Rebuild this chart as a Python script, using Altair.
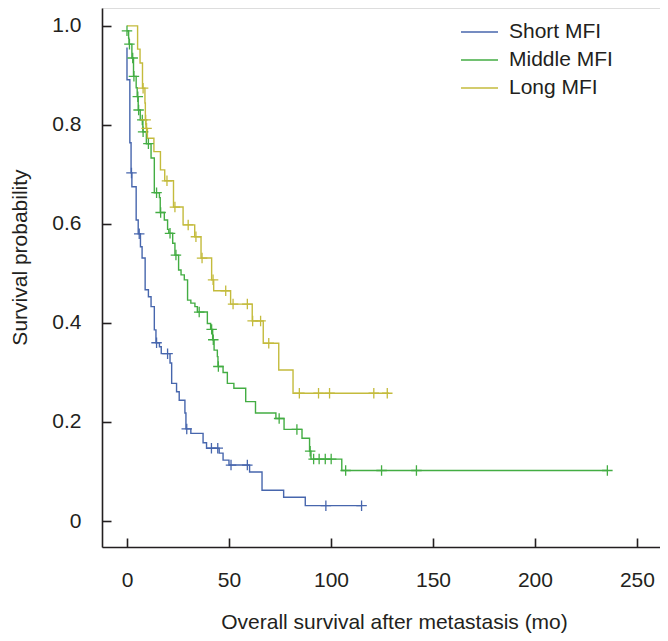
import altair as alt
import pandas as pd

groups = ["Short MFI", "Middle MFI", "Long MFI"]
colors = ["#4766ad", "#43ad43", "#c4bb3c"]

# Kaplan-Meier step points (time in months, survival probability)
short_t = [0, 0, 1.4, 2.0, 2.4, 4.5, 5.5, 6.6, 7.4, 8.9, 10.5, 11.8, 13.4, 14.2, 15.9, 16.8,
           21.1, 21.9, 24.3, 25.6, 28.4, 28.9, 31.3, 37.3, 39.0, 45.2, 47.1, 50.0, 60.1, 66.2,
           76.8, 87.4, 115.0]
short_s = [0.956, 0.891, 0.764, 0.703, 0.675, 0.608, 0.580, 0.554, 0.531, 0.467, 0.453, 0.433,
           0.386, 0.360, 0.352, 0.338, 0.319, 0.278, 0.261, 0.244, 0.218, 0.186, 0.177, 0.158,
           0.147, 0.137, 0.123, 0.113, 0.099, 0.062, 0.048, 0.031, 0.031]
short_ct = [2.2, 6.0, 14.5, 19.9, 29.3, 41.4, 44.5, 51.0, 59.0, 97.5, 115.0]
short_cs = [0.703, 0.580, 0.360, 0.338, 0.186, 0.147, 0.147, 0.113, 0.113, 0.031, 0.031]

mid_t = [0, 0.8, 1.0, 2.4, 3.2, 4.5, 5.0, 5.5, 6.5, 7.8, 9.5, 11.8, 13.4, 15.9, 16.3, 18.3,
         19.9, 20.5, 22.4, 23.5, 25.3, 26.5, 28.1, 29.7, 31.3, 33.3, 34.5, 39.4, 41.0, 42.0,
         42.7, 44.3, 44.6, 47.1, 49.2, 52.4, 58.2, 63.0, 73.0, 77.0, 85.8, 89.5, 90.2, 105.3,
         235.5]
mid_s = [0.99, 0.975, 0.963, 0.935, 0.898, 0.875, 0.857, 0.830, 0.810, 0.786, 0.762, 0.733,
         0.663, 0.653, 0.623, 0.608, 0.589, 0.581, 0.561, 0.537, 0.507, 0.497, 0.487, 0.446,
         0.440, 0.433, 0.422, 0.399, 0.387, 0.366, 0.345, 0.332, 0.312, 0.300, 0.278, 0.268,
         0.241, 0.218, 0.207, 0.185, 0.167, 0.141, 0.125, 0.102, 0.102]
mid_ct = [0, 1.2, 2.8, 3.4, 5.3, 5.7, 7.5, 7.9, 10.5, 14.5, 16.5, 21.1, 24.0, 35.4, 41.5, 42.3,
          44.8, 74.6, 83.3, 89.8, 91.5, 94.2, 97.2, 100.1, 107.2, 124.8, 141.9, 235.5]
mid_cs = [0.99, 0.963, 0.935, 0.898, 0.857, 0.830, 0.810, 0.786, 0.762, 0.663, 0.623, 0.581,
          0.537, 0.422, 0.387, 0.366, 0.312, 0.207, 0.185, 0.141, 0.125, 0.125, 0.125, 0.125,
          0.102, 0.102, 0.102, 0.102]

long_t = [0, 5.2, 6.4, 7.6, 8.8, 9.0, 9.3, 10.0, 13.2, 16.4, 18.5, 22.8, 27.5, 33.2, 36.3,
          41.5, 42.5, 50.8, 61.4, 66.8, 74.4, 81.4, 128.5]
long_s = [1.0, 0.953, 0.925, 0.874, 0.844, 0.810, 0.793, 0.773, 0.746, 0.709, 0.687, 0.634,
          0.598, 0.574, 0.531, 0.487, 0.465, 0.438, 0.404, 0.359, 0.305, 0.258, 0.258]
long_ct = [7.9, 9.15, 9.6, 19.6, 23.5, 30.0, 33.8, 36.8, 42.2, 48.4, 52.0, 59.0, 61.6, 65.5,
           69.5, 84.5, 93.9, 99.3, 121.0, 127.6]
long_cs = [0.874, 0.810, 0.793, 0.687, 0.634, 0.598, 0.574, 0.531, 0.487, 0.465, 0.438, 0.438,
           0.404, 0.404, 0.359, 0.258, 0.258, 0.258, 0.258, 0.258]

x_ticks = [0, 50, 100, 150, 200, 250]
y_ticks = [0, 0.2, 0.4, 0.6, 0.8, 1.0]

rows, crows = [], []
for g, ts, ss, cts, css in [
    (groups[0], short_t, short_s, short_ct, short_cs),
    (groups[1], mid_t, mid_s, mid_ct, mid_cs),
    (groups[2], long_t, long_s, long_ct, long_cs),
]:
    for i, (t, s) in enumerate(zip(ts, ss)):
        rows.append({"group": g, "t": t, "s": s, "idx": i})
    for t, s in zip(cts, css):
        crows.append({"group": g, "t": t, "s": s})
lines_df = pd.DataFrame(rows)
cens_df = pd.DataFrame(crows)

FONT = "Liberation Sans, Arial"
TXT = "#231f20"

xscale = alt.Scale(domain=[-12.25, 261.3], nice=False, zero=False)
yscale = alt.Scale(domain=[-0.0525, 1.036], nice=False, zero=False)
cscale = alt.Scale(domain=groups, range=colors)

lines = alt.Chart(lines_df).mark_line(interpolate="step-after", strokeWidth=1.4).encode(
    x=alt.X("t:Q", scale=xscale,
            axis=alt.Axis(orient="bottom", domain=True, ticks=False, labels=False, grid=False,
                          domainColor=TXT, domainWidth=1.6,
                          title="Overall survival after metastasis (mo)",
                          titleX=292, titleY=75, titleBaseline="middle", titleAlign="center",
                          titleFont=FONT, titleFontSize=21, titleFontWeight="normal",
                          titleColor=TXT)),
    y=alt.Y("s:Q", scale=yscale,
            axis=alt.Axis(orient="left", domain=True, ticks=False, labels=False, grid=False,
                          domainColor=TXT, domainWidth=1.6,
                          title="Survival probability", titleAngle=-90,
                          titleX=-82, titleY=249, titleBaseline="middle", titleAlign="center",
                          titleFont=FONT, titleFontSize=21, titleFontWeight="normal",
                          titleColor=TXT)),
    color=alt.Color("group:N", scale=cscale,
                    legend=alt.Legend(title=None, orient="none", legendX=358, legendY=10,
                                      symbolType="stroke", symbolSize=1369,
                                      symbolStrokeWidth=1.6, clipHeight=28, rowPadding=0,
                                      padding=0, labelOffset=10, labelFont=FONT,
                                      labelFontSize=21, labelColor=TXT, labelLimit=300)),
    order=alt.Order("idx:Q"),
)

cens = alt.Chart(cens_df).mark_point(shape="M-1,0H1M0,-1V1", filled=False, size=110,
                                     strokeWidth=1.3, opacity=1).encode(
    x=alt.X("t:Q", scale=xscale,
            axis=alt.Axis(orient="bottom", domain=False, ticks=True, tickSize=9, offset=-9,
                          tickWidth=1.6, tickColor=TXT, values=x_ticks, grid=False,
                          labelFont=FONT, labelFontSize=21, labelColor=TXT, labelPadding=22,
                          title=None)),
    y=alt.Y("s:Q", scale=yscale,
            axis=alt.Axis(orient="left", domain=False, ticks=True, tickSize=9, offset=-9,
                          tickWidth=1.6, tickColor=TXT, values=y_ticks, grid=False,
                          labelFont=FONT, labelFontSize=21, labelColor=TXT, labelPadding=21,
                          labelExpr="datum.value == 0 ? '0' : format(datum.value, '.1f')",
                          title=None)),
    color=alt.Color("group:N", scale=cscale, legend=None),
)

chart = alt.layer(lines, cens).resolve_axis(x="independent", y="independent").properties(
    width=558, height=539,
    autosize=alt.AutoSizeParams(type="none"),
    padding={"left": 94, "top": 0, "right": 0, "bottom": 86},
).configure_view(stroke=None).configure(background="white")

chart.save("out.html", embed_options={"renderer": "svg", "actions": False})
